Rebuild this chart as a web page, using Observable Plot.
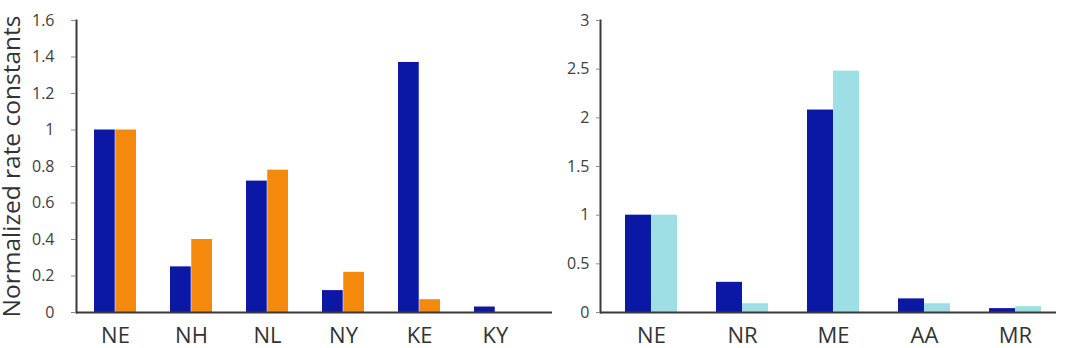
<!DOCTYPE html>
<html><head><meta charset="utf-8">
<script src="https://cdn.jsdelivr.net/npm/d3@7"></script>
<script src="https://cdn.jsdelivr.net/npm/@observablehq/plot@0.6"></script>
<style>
body{margin:0;background:#fff;}
#wrap{display:flex;width:1076px;height:348px;overflow:hidden;}
svg{display:block;}
</style></head><body><div id="wrap"></div>
<script>
const leftCategories = ["NE", "NH", "NL", "NY", "KE", "KY"];
const leftSeriesA = [1.0, 0.25, 0.72, 0.12, 1.37, 0.03];
const leftSeriesB = [1.0, 0.40, 0.78, 0.22, 0.07, 0];
const leftTicks = [0, 0.2, 0.4, 0.6, 0.8, 1, 1.2, 1.4, 1.6];
const rightCategories = ["NE", "NR", "ME", "AA", "MR"];
const rightSeriesA = [1.0, 0.31, 2.08, 0.14, 0.04];
const rightSeriesB = [1.0, 0.09, 2.48, 0.09, 0.06];
const rightTicks = [0, 0.5, 1, 1.5, 2, 2.5, 3];
const yTitle = "Normalized rate constants";

const colorA = "#0b18a6";
const colorB_left = "#f5890c";
const colorB_right = "#9edfe6";
const axisColor = "#3a3a3a";

function panel(o) {
  const rows = o.categories.map((c, i) => ({cat: c, a: o.a[i], b: o.b[i]}));
  const xOpts = {type: "band", domain: o.categories, range: [o.marginLeft, o.width - o.marginRight],
    paddingInner: o.padIn, paddingOuter: o.padOut, align: o.align};
  const bw = Plot.scale({x: xOpts}).bandwidth;
  const marks = [
    Plot.barY(rows, {x: "cat", y: "a", fill: colorA, insetRight: bw / 2}),
    Plot.barY(rows, {x: "cat", y: "b", fill: o.colorB, insetLeft: bw / 2}),
    Plot.ruleY([0], {stroke: axisColor, strokeWidth: 2}),
    Plot.frame({anchor: "left", stroke: axisColor, strokeWidth: 2}),
    Plot.axisY({ticks: o.ticks, tickFormat: d3.format("~g"), tickSize: o.tickSize, tickPadding: o.tickPadding,
      fontSize: 16, label: null, stroke: "#888", fill: "#404040"}),
    Plot.axisX({tickSize: 0, tickPadding: 15, fontSize: 22, label: null, fill: "#333"})
  ];
  if (o.title) {
    marks.push(Plot.text([o.title], {text: d => d, frameAnchor: "left", rotate: -90, dx: -64, fontSize: 24.5,
      textAnchor: "middle", lineAnchor: "middle", fill: "#333"}));
  }
  return Plot.plot({
    width: o.width, height: 348,
    marginLeft: o.marginLeft, marginRight: o.marginRight, marginTop: 20, marginBottom: 36,
    style: {fontFamily: "'Open Sans'", color: axisColor, background: "#fff", overflow: "visible"},
    x: {domain: o.categories, paddingInner: o.padIn, paddingOuter: o.padOut, align: o.align, axis: null},
    y: {domain: [0, o.ticks[o.ticks.length - 1]], axis: null},
    marks
  });
}

const wrap = document.getElementById("wrap");
wrap.append(panel({categories: leftCategories, a: leftSeriesA, b: leftSeriesB, colorB: colorB_left,
  ticks: leftTicks, width: 556, marginLeft: 76, marginRight: 4, padIn: 0.444, padOut: 0.335, align: 0.326,
  tickSize: 5, tickPadding: 17, title: yTitle}));
wrap.append(panel({categories: rightCategories, a: rightSeriesA, b: rightSeriesB, colorB: colorB_right,
  ticks: rightTicks, width: 520, marginLeft: 44, marginRight: 20, padIn: 0.434, padOut: 0.197, align: 0.614,
  tickSize: 4, tickPadding: 7}));
</script></body></html>
